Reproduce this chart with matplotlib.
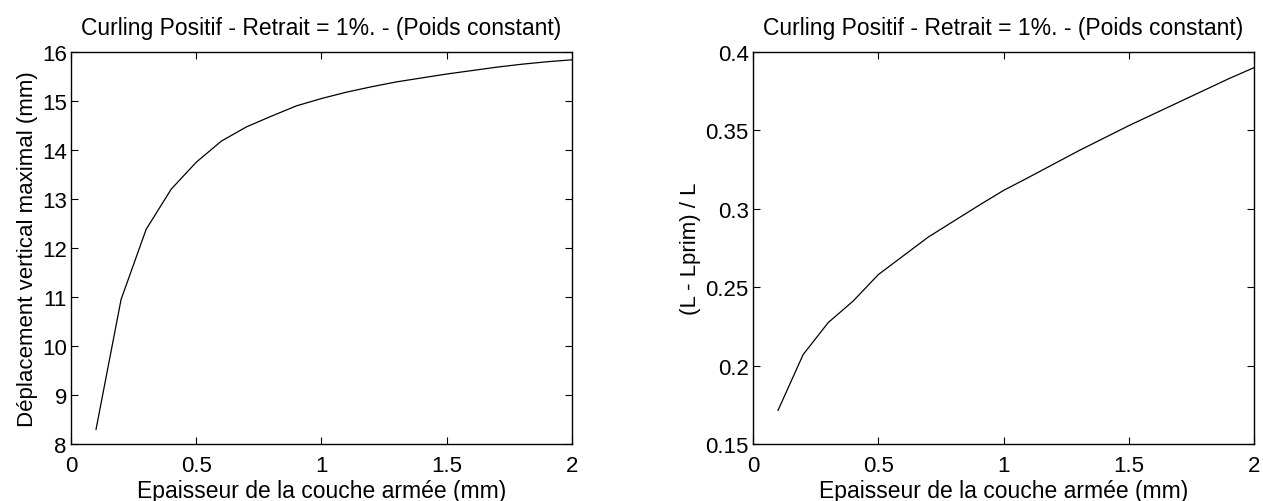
import matplotlib.pyplot as plt

plt.rcParams['font.family'] = ['Liberation Sans', 'DejaVu Sans']

epaisseur = [0.1, 0.2, 0.3, 0.4, 0.5, 0.6, 0.7, 0.8, 0.9, 1.0,
             1.1, 1.2, 1.3, 1.4, 1.5, 1.6, 1.7, 1.8, 1.9, 2.0]
deplacement = [8.30, 10.95, 12.38, 13.20, 13.75, 14.18, 14.47, 14.69, 14.90, 15.05,
               15.18, 15.29, 15.39, 15.47, 15.55, 15.62, 15.69, 15.75, 15.80, 15.84]
raccourci = [0.1715, 0.207, 0.2274, 0.2412, 0.258, 0.270, 0.282, 0.292, 0.302, 0.3117,
             0.320, 0.3285, 0.337, 0.345, 0.353, 0.3605, 0.368, 0.3755, 0.383, 0.390]

titre = 'Curling Positif - Retrait = 1%. - (Poids constant)'
xlab = 'Epaisseur de la couche armée (mm)'

fig = plt.figure(figsize=(12.63, 5.02), dpi=100)
ax1 = fig.add_axes([0.0562, 0.1135, 0.3967, 0.781])
ax2 = fig.add_axes([0.5962, 0.1135, 0.3967, 0.781])

ax1.plot(epaisseur, deplacement, color='black', lw=0.9)
ax1.set_xlim(0, 2)
ax1.set_ylim(8, 16)
ax1.set_xticks([0, 0.5, 1, 1.5, 2])
ax1.set_xticklabels(['0', '0.5', '1', '1.5', '2'])
ax1.set_yticks(range(8, 17))
ax1.set_ylabel('Déplacement vertical maximal (mm)', fontsize=16, labelpad=3)

ax2.plot(epaisseur, raccourci, color='black', lw=0.9)
ax2.set_xlim(0, 2)
ax2.set_ylim(0.15, 0.4)
ax2.set_xticks([0, 0.5, 1, 1.5, 2])
ax2.set_xticklabels(['0', '0.5', '1', '1.5', '2'])
ax2.set_yticks([0.15, 0.2, 0.25, 0.3, 0.35, 0.4])
ax2.set_yticklabels(['0.15', '0.2', '0.25', '0.3', '0.35', '0.4'])
ax2.set_ylabel('(L - Lprim) / L', fontsize=16, labelpad=3)

for ax in (ax1, ax2):
    ax.set_title(titre, fontsize=16.5, pad=13)
    ax.set_xlabel(xlab, fontsize=16.5, labelpad=2)
    ax.tick_params(direction='in', top=True, right=True, labelsize=16, length=5, width=0.8)
    ax.tick_params(axis='x', pad=8)
    ax.tick_params(axis='y', pad=3)
    for s in ax.spines.values():
        s.set_linewidth(1.0)

fig.savefig('out.png', dpi=100)
